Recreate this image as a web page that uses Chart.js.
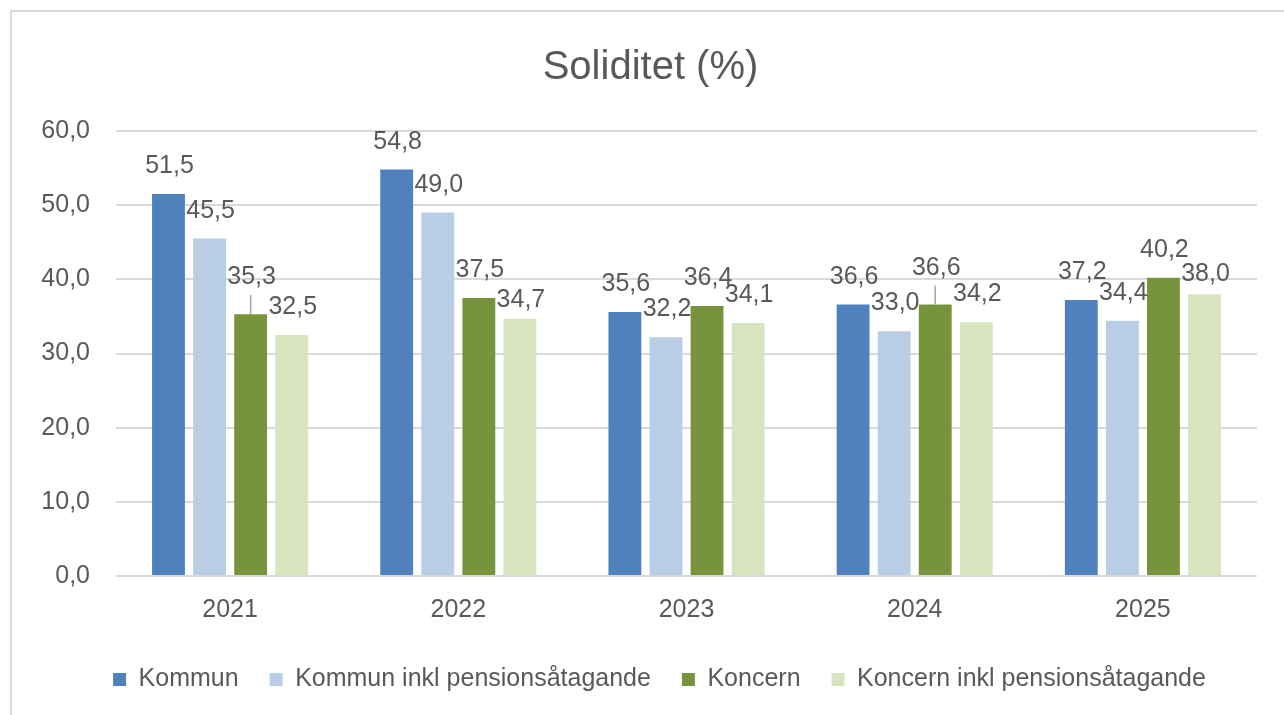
<!DOCTYPE html>
<html>
<head>
<meta charset="utf-8">
<script src="https://cdn.jsdelivr.net/npm/chart.js@4/dist/chart.umd.min.js"></script>
<style>
  html, body { margin: 0; padding: 0; background: #fff; overflow: hidden; width: 1284px; height: 715px; }
  #frame { position: absolute; left: 10px; top: 10px; width: 1280px; height: 720px; border: 2px solid #d9d9d9; box-sizing: border-box; }
  #wrap { position: absolute; left: 12px; top: 12px; width: 1276px; height: 703px; }
</style>
</head>
<body>
<div id="frame"></div>
<div id="wrap"><canvas id="chart"></canvas></div>
<script>
const years = ["2021", "2022", "2023", "2024", "2025"];
const kommun = [51.5, 54.8, 35.6, 36.6, 37.2];
const kommunPension = [45.5, 49.0, 32.2, 33.0, 34.4];
const koncern = [35.3, 37.5, 36.4, 36.6, 40.2];
const koncernPension = [32.5, 34.7, 34.1, 34.2, 38.0];
const yTicks = [0, 10, 20, 30, 40, 50, 60];

const textColor = "#595959";
const fontFamily = "'Liberation Sans', Arial, sans-serif";

// etiketter som flyttats i originalet (dataset-index:punkt-index -> px, leader = hävarm)
const labelMoves = {
  "2:0": { dy: -9, leader: true },
  "2:3": { dy: -9, leader: true },
  "3:1": { dy: 9 },
  "3:4": { dy: 8 }
};

const fmt = v => v.toFixed(1).replace(".", ",");

const valueLabels = {
  id: "valueLabels",
  afterDatasetsDraw(chart) {
    const ctx = chart.ctx;
    ctx.save();
    ctx.font = "25px " + fontFamily;
    ctx.fillStyle = textColor;
    ctx.textAlign = "center";
    ctx.textBaseline = "alphabetic";
    chart.data.datasets.forEach((ds, di) => {
      const meta = chart.getDatasetMeta(di);
      meta.data.forEach((bar, i) => {
        const move = labelMoves[di + ":" + i] || { dy: 0 };
        const base = bar.y - 21 + move.dy;
        ctx.fillText(fmt(ds.data[i]), bar.x + 1, base);
        if (move.leader) {
          ctx.strokeStyle = "#a6a6a6";
          ctx.lineWidth = 1.5;
          ctx.beginPath();
          ctx.moveTo(bar.x, base + 11);
          ctx.lineTo(bar.x, bar.y);
          ctx.stroke();
        }
      });
    });
    ctx.restore();
  }
};

// titel och legend centreras på hela ramen, inte på ritytan
const shiftBoxes = {
  id: "shiftBoxes",
  afterLayout(chart) {
    if (chart.titleBlock) { chart.titleBlock.left += 16; chart.titleBlock.right += 16; }
    if (chart.legend) { chart.legend.left += 25; chart.legend.right += 25; }
  }
};

new Chart(document.getElementById("chart"), {
  type: "bar",
  data: {
    labels: years,
    datasets: [
      { label: "Kommun", data: kommun, backgroundColor: "#4f81bd" },
      { label: "Kommun inkl pensionsåtagande", data: kommunPension, backgroundColor: "#b9cde5" },
      { label: "Koncern", data: koncern, backgroundColor: "#77933c" },
      { label: "Koncern inkl pensionsåtagande", data: koncernPension, backgroundColor: "#d7e4bd" }
    ]
  },
  options: {
    responsive: true,
    maintainAspectRatio: false,
    animation: false,
    datasets: { bar: { categoryPercentage: 0.72, barPercentage: 0.8 } },
    layout: { padding: { left: 0, right: 31, top: 0, bottom: 13 } },
    plugins: {
      title: {
        display: true,
        text: "Soliditet (%)",
        color: textColor,
        font: { family: fontFamily, size: 40, weight: "normal" },
        padding: { top: 32, bottom: 39 }
      },
      legend: {
        position: "bottom",
        labels: {
          color: textColor,
          font: { family: fontFamily, size: 25 },
          boxWidth: 13,
          boxHeight: 13,
          padding: 31
        }
      },
      tooltip: { enabled: false }
    },
    scales: {
      x: {
        grid: { display: false },
        border: { display: false },
        ticks: { color: textColor, font: { family: fontFamily, size: 25 }, padding: 11 }
      },
      y: {
        min: 0,
        max: 60,
        afterBuildTicks: scale => { scale.ticks = yTicks.map(v => ({ value: v })); },
        afterFit: scale => { scale.width = 104; },
        grid: { color: "#d9d9d9", lineWidth: 2, drawTicks: false },
        border: { display: false },
        ticks: {
          color: textColor,
          font: { family: fontFamily, size: 25 },
          padding: 26,
          callback: v => fmt(v)
        }
      }
    }
  },
  plugins: [valueLabels, shiftBoxes]
});
</script>
</body>
</html>
